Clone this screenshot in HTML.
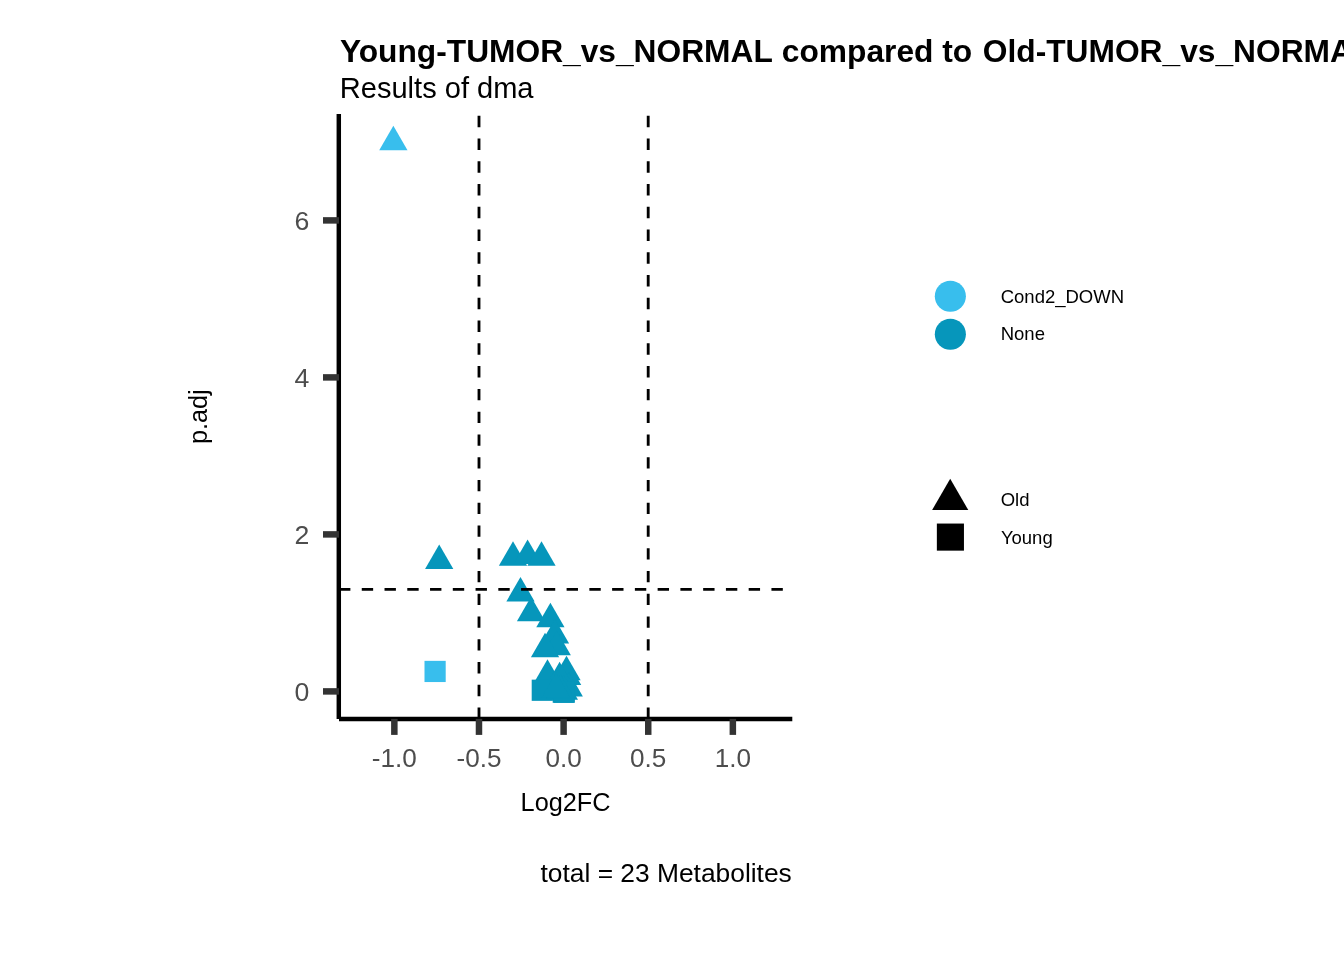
<!DOCTYPE html>
<html lang="en"><head><meta charset="utf-8"><title>Volcano plot</title>
<style>
html,body{margin:0;padding:0;background:#fff;}
body{width:1344px;height:960px;overflow:hidden;}
svg{display:block;}
text{font-family:"Liberation Sans",Arial,Helvetica,sans-serif;}
</style></head><body>
<svg width="1344" height="960" viewBox="0 0 1344 960">
<rect width="1344" height="960" fill="#ffffff"/>
<g id="points">
<polygon points="439.20,544.52 453.34,569.01 425.06,569.01" fill="#0696BB"/>
<polygon points="513.00,541.27 527.14,565.76 498.86,565.76" fill="#0696BB"/>
<polygon points="527.60,539.52 541.74,564.01 513.46,564.01" fill="#0696BB"/>
<polygon points="541.50,541.27 555.64,565.76 527.36,565.76" fill="#0696BB"/>
<polygon points="520.50,576.97 534.64,601.46 506.36,601.46" fill="#0696BB"/>
<polygon points="531.05,596.87 545.19,621.37 516.91,621.37" fill="#0696BB"/>
<polygon points="550.40,602.77 564.54,627.26 536.26,627.26" fill="#0696BB"/>
<polygon points="554.95,618.97 569.09,643.46 540.81,643.46" fill="#0696BB"/>
<polygon points="556.75,630.77 570.89,655.26 542.61,655.26" fill="#0696BB"/>
<polygon points="545.05,632.77 559.19,657.26 530.91,657.26" fill="#0696BB"/>
<polygon points="547.50,659.27 561.64,683.76 533.36,683.76" fill="#0696BB"/>
<polygon points="566.50,655.67 580.64,680.16 552.36,680.16" fill="#0696BB"/>
<polygon points="567.10,660.57 581.24,685.06 552.96,685.06" fill="#0696BB"/>
<polygon points="568.75,671.97 582.89,696.46 554.61,696.46" fill="#0696BB"/>
<polygon points="559.60,661.87 573.74,686.37 545.46,686.37" fill="#0696BB"/>
<polygon points="563.85,675.27 577.99,699.76 549.71,699.76" fill="#0696BB"/>
<rect x="531.70" y="679.65" width="21.20" height="21.20" fill="#0696BB"/>
<rect x="552.70" y="681.60" width="21.20" height="21.20" fill="#0696BB"/>
<rect x="553.70" y="681.60" width="21.20" height="21.20" fill="#0696BB"/>
<polygon points="560.50,674.17 574.64,698.66 546.36,698.66" fill="#0696BB"/>
<polygon points="556.00,672.67 570.14,697.16 541.86,697.16" fill="#0696BB"/>
<polygon points="393.35,125.87 407.49,150.36 379.21,150.36" fill="#38BEED"/>
<rect x="424.50" y="660.85" width="21.20" height="21.20" fill="#38BEED"/>
</g>
<g stroke="#000" stroke-width="2.85" stroke-dasharray="11.38 11.38" fill="none">
<line x1="479.0" y1="718.9" x2="479.0" y2="114.1"/>
<line x1="648.2" y1="718.9" x2="648.2" y2="114.1"/>
<line x1="339.0" y1="589.3" x2="792.3" y2="589.3"/>
</g>
<g stroke="#000" stroke-width="4.45" fill="none">
<line x1="338.8" y1="114.1" x2="338.8" y2="718.9"/>
<line x1="339.0" y1="718.9" x2="792.3" y2="718.9"/>
</g>
<g stroke="#333333" stroke-width="6.5" fill="none">
<line x1="323.0" y1="691.40" x2="339.0" y2="691.40"/>
<line x1="323.0" y1="534.40" x2="339.0" y2="534.40"/>
<line x1="323.0" y1="377.40" x2="339.0" y2="377.40"/>
<line x1="323.0" y1="220.40" x2="339.0" y2="220.40"/>
<line x1="394.35" y1="718.9" x2="394.35" y2="734.9"/>
<line x1="478.98" y1="718.9" x2="478.98" y2="734.9"/>
<line x1="563.60" y1="718.9" x2="563.60" y2="734.9"/>
<line x1="648.23" y1="718.9" x2="648.23" y2="734.9"/>
<line x1="732.85" y1="718.9" x2="732.85" y2="734.9"/>
</g>
<g fill="#4D4D4D" font-size="26.1px">
<text x="309.3" y="700.85" text-anchor="end" font-size="26.67px">0</text>
<text x="309.3" y="543.85" text-anchor="end" font-size="26.67px">2</text>
<text x="309.3" y="386.85" text-anchor="end" font-size="26.67px">4</text>
<text x="309.3" y="229.85" text-anchor="end" font-size="26.67px">6</text>
<text x="394.35" y="766.8" text-anchor="middle">-1.0</text>
<text x="478.98" y="766.8" text-anchor="middle">-0.5</text>
<text x="563.60" y="766.8" text-anchor="middle">0.0</text>
<text x="648.23" y="766.8" text-anchor="middle">0.5</text>
<text x="732.85" y="766.8" text-anchor="middle">1.0</text>
</g>
<text x="339.9" y="61.5" font-size="31.72px" font-weight="bold" fill="#000">Young-TUMOR_vs_NORMAL <tspan dx="0.8">compared</tspan> to <tspan dx="1.8">Old-TUMOR_vs_NORMAL</tspan></text>
<text x="339.8" y="97.9" font-size="29.05px" fill="#000">Results of dma</text>
<text x="565.6" y="810.5" font-size="25.3px" text-anchor="middle" fill="#000">Log2FC</text>
<text transform="translate(207,416.7) rotate(-90)" font-size="25.3px" text-anchor="middle" fill="#000">p.adj</text>
<text x="791.8" y="882.1" font-size="26.37px" text-anchor="end" fill="#000">total = 23 Metabolites</text>
<circle cx="950.35" cy="296.3" r="15.55" fill="#38BEED"/>
<circle cx="950.35" cy="334.3" r="15.55" fill="#0696BB"/>
<polygon points="950.20,478.70 968.30,510.05 932.10,510.05" fill="#000"/>
<rect x="936.85" y="523.55" width="27.10" height="27.10" fill="#000"/>
<g font-size="18.5px" fill="#000">
<text x="1000.7" y="302.5">Cond2_DOWN</text>
<text x="1000.7" y="340.4">None</text>
<text x="1000.7" y="505.8">Old</text>
<text x="1000.9" y="543.7">Young</text>
</g>
</svg></body></html>
